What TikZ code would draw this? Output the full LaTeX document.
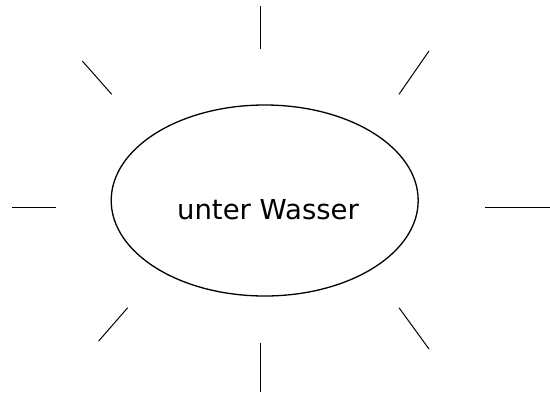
\documentclass[tikz,border=0pt]{standalone}
\usepackage{fontspec}
\setmainfont{DejaVu Sans}
\usepackage{tikz}
\usetikzlibrary{shapes.geometric}

\begin{document}
\begin{tikzpicture}[
    x=1pt, y=-1pt,
    blob/.style={ellipse, draw, line width=1.3pt, minimum width=307pt, minimum height=191pt, inner sep=0pt},
    ray/.style={draw, line width=1pt},
    caption/.style={font=\fontsize{27.5}{33}\selectfont, inner sep=0pt}
]
\useasboundingbox (0,0) rectangle (550,392);

% Ellipse with text
\node[blob] (water) at (264.7,200.5) {};
\node[caption] (name) at (268,209.5) {unter Wasser};

% Rays
\draw[ray] (260.7,6) -- (260.7,48.7);
\draw[ray] (82.3,61) -- (111.7,94.3);
\draw[ray] (429,51) -- (399,94.3);
\draw[ray] (11.7,207.3) -- (56,207.3);
\draw[ray] (485,207.3) -- (550,207.3);
\draw[ray] (98.7,341) -- (127.7,307.7);
\draw[ray] (399,307.7) -- (429,349);
\draw[ray] (260.7,342.7) -- (260.7,392);

\end{tikzpicture}
\end{document}
